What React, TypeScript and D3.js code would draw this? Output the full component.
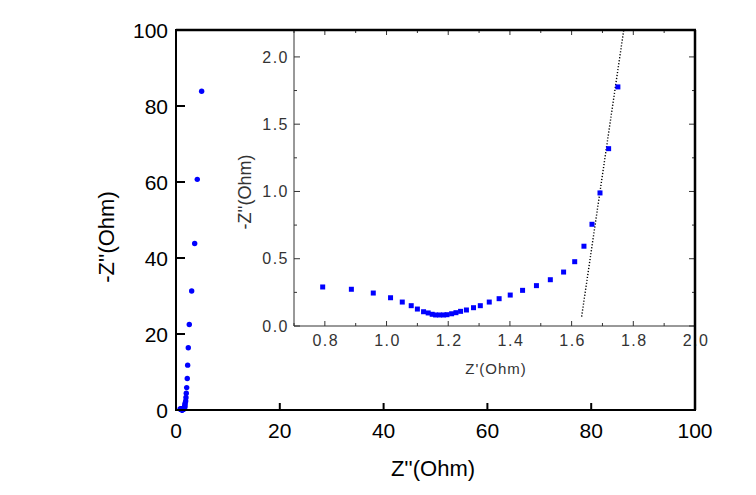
import React from "react";
import * as d3 from "d3";

// high-frequency part of the spectrum (only visible in the main plot)
const tailZre = [1.87, 1.92, 1.98, 2.06, 2.17, 2.25, 2.37, 2.56, 3.02, 3.6, 4.1, 4.94];
const tailZim = [2.4, 3.3, 4.4, 5.9, 8.3, 11.8, 16.4, 22.5, 31.3, 43.8, 60.7, 83.9];

// low-impedance region shown in the inset
const insetZre = [
  0.793, 0.886, 0.957, 1.013, 1.051, 1.08, 1.1, 1.12, 1.135, 1.148, 1.159, 1.172,
  1.185, 1.196, 1.211, 1.225, 1.24, 1.259, 1.282, 1.304, 1.333, 1.365, 1.401, 1.441,
  1.486, 1.531, 1.574, 1.61, 1.64, 1.666, 1.692, 1.72, 1.75,
];
const insetZim = [
  0.29, 0.273, 0.245, 0.21, 0.178, 0.151, 0.126, 0.106, 0.097, 0.087, 0.082, 0.082,
  0.082, 0.084, 0.091, 0.099, 0.109, 0.119, 0.136, 0.151, 0.178, 0.203, 0.23, 0.265,
  0.3, 0.344, 0.401, 0.478, 0.593, 0.756, 0.989, 1.318, 1.777,
];

// dotted fit line
const fitZre = [1.6325, 1.769];
const fitZim = [0.07, 2.2];

const mainTicks = [0, 20, 40, 60, 80, 100];
const insetXTicks = [0.8, 1.0, 1.2, 1.4, 1.6, 1.8, 2.0];
const insetXMinor = [0.7, 0.9, 1.1, 1.3, 1.5, 1.7, 1.9];
const insetYTicks = [0, 0.5, 1.0, 1.5, 2.0];
const insetYMinor = [0.25, 0.75, 1.25, 1.75];

const FONT = "'Liberation Sans', Arial, sans-serif";

export default function App() {
  // main plot area
  const m = { left: 176, right: 695, top: 30, bottom: 410 };
  const x = d3.scaleLinear().domain([0, 100]).range([m.left, m.right]);
  const y = d3.scaleLinear().domain([0, 100]).range([m.bottom, m.top]);

  // inset area
  const ins = { left: 294, right: 695, top: 30, bottom: 326 };
  const ix = d3.scaleLinear().domain([0.7, 2.0]).range([ins.left, ins.right]);
  const iy = d3.scaleLinear().domain([0, 2.2]).range([ins.bottom, ins.top]);

  const mainZre = insetZre.concat(tailZre);
  const mainZim = insetZim.concat(tailZim);

  const fmt = d3.format(".1f");
  const fitPath = d3.line<number>()
    .x((d, i) => ix(fitZre[i]))
    .y((d) => iy(d))(fitZim);

  return (
    <div style={{ position: "absolute", left: 0, top: 0 }}>
      <svg width={756} height={495} style={{ display: "block", background: "#fff" }} fontFamily={FONT}>
        {/* main plot points */}
        {mainZre.map((v, i) => (
          <circle key={"m" + i} cx={x(v)} cy={y(mainZim[i])} r={2.7} fill="#0000ff" />
        ))}

        {/* main axes ticks */}
        {mainTicks.map((t) => (
          <g key={"mx" + t}>
            {t > 0 && t < 100 && (
              <line x1={x(t)} x2={x(t)} y1={m.bottom} y2={m.bottom - 7} stroke="#000" strokeWidth={2} />
            )}
            <text x={x(t)} y={438} fontSize={21} textAnchor="middle" fill="#000">{t}</text>
          </g>
        ))}
        {mainTicks.map((t) => (
          <g key={"my" + t}>
            {t > 0 && t < 100 && (
              <line x1={m.left} x2={m.left + 9} y1={y(t)} y2={y(t)} stroke="#000" strokeWidth={2} />
            )}
            <text x={168} y={y(t)} dy="0.36em" fontSize={21} textAnchor="end" fill="#000">{t}</text>
          </g>
        ))}

        {/* main frame */}
        <rect x={m.left} y={m.top} width={m.right - m.left} height={m.bottom - m.top}
          fill="none" stroke="#000" strokeWidth={2} />

        {/* main axis titles */}
        <text x={433} y={476} fontSize={22} textAnchor="middle" fill="#000">Z''(Ohm)</text>
        <text transform={`translate(114,237) rotate(-90)`} fontSize={22} textAnchor="middle" fill="#000">-Z''(Ohm)</text>

        {/* inset */}
        <rect x={ins.left} y={ins.top} width={ins.right - ins.left} height={ins.bottom - ins.top} fill="#fff" />
        <path d={fitPath || ""} fill="none" stroke="#000" strokeWidth={1.4} strokeDasharray="1.2,1.8" />
        {insetZre.map((v, i) => (
          <rect key={"i" + i} x={ix(v) - 2.5} y={iy(insetZim[i]) - 2.5} width={5} height={5} fill="#0000ff" />
        ))}

        {/* inset ticks */}
        {insetXTicks.map((t) => (
          <g key={"ix" + t}>
            <line x1={ix(t)} x2={ix(t)} y1={ins.bottom} y2={ins.bottom - 5} stroke="#333" />
            <line x1={ix(t)} x2={ix(t)} y1={ins.top} y2={ins.top + 5} stroke="#333" />
            <text x={ix(t) + 1} y={346} fontSize={16} textAnchor="middle" letterSpacing={1.5} fill="#333">{fmt(t)}</text>
          </g>
        ))}
        {insetXMinor.map((t) => (
          <g key={"ixm" + t}>
            <line x1={ix(t)} x2={ix(t)} y1={ins.bottom} y2={ins.bottom - 3} stroke="#333" />
            <line x1={ix(t)} x2={ix(t)} y1={ins.top} y2={ins.top + 3} stroke="#333" />
          </g>
        ))}
        {insetYTicks.map((t) => (
          <g key={"iy" + t}>
            <line x1={ins.left} x2={ins.left + 6} y1={iy(t)} y2={iy(t)} stroke="#333" />
            <line x1={ins.right} x2={ins.right - 6} y1={iy(t)} y2={iy(t)} stroke="#333" />
            <text x={289} y={iy(t)} dy="0.36em" fontSize={16} textAnchor="end" letterSpacing={1.5} fill="#333">{fmt(t)}</text>
          </g>
        ))}
        {insetYMinor.map((t) => (
          <g key={"iym" + t}>
            <line x1={ins.left} x2={ins.left + 3} y1={iy(t)} y2={iy(t)} stroke="#333" />
            <line x1={ins.right} x2={ins.right - 3} y1={iy(t)} y2={iy(t)} stroke="#333" />
          </g>
        ))}

        {/* inset frame: thin left/bottom, heavy top/right */}
        <line x1={ins.left} x2={ins.left} y1={ins.top} y2={ins.bottom} stroke="#333" strokeWidth={1} />
        <line x1={ins.left} x2={ins.right} y1={ins.bottom} y2={ins.bottom} stroke="#333" strokeWidth={1} />
        <line x1={m.left} x2={ins.right + 1} y1={ins.top} y2={ins.top} stroke="#000" strokeWidth={2.5} />
        <line x1={ins.right} x2={ins.right} y1={ins.top} y2={m.bottom} stroke="#000" strokeWidth={2.5} />

        {/* inset titles */}
        <text x={496} y={374} fontSize={15} letterSpacing={1} textAnchor="middle" fill="#333">Z'(Ohm)</text>
        <text transform={`translate(251,192) rotate(-90)`} fontSize={18} textAnchor="middle" fill="#333">-Z''(Ohm)</text>
      </svg>
    </div>
  );
}
